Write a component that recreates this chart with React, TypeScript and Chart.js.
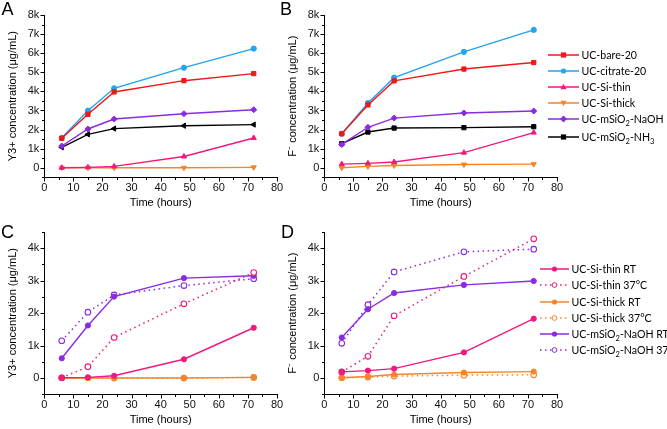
import React, { useEffect, useRef } from 'react';
import { Chart, registerables } from 'chart.js';
Chart.register(...registerables);

// ---------- DATA ----------
const TIME = [6, 15, 24, 48, 72];
const X_TICKS = [0, 10, 20, 30, 40, 50, 60, 70, 80];

// Panel A: Y3+ concentration (µg/mL)
const A_BARE = [1540, 2800, 3970, 4560, 4930];
const A_CITRATE = [1570, 2990, 4160, 5240, 6240];
const A_SI_THIN = [0, 20, 70, 590, 1560];
const A_SI_THICK = [0, 0, 0, 0, 20];
const A_NAOH = [1140, 2030, 2550, 2830, 3040];
const A_NH3 = [1070, 1750, 2050, 2200, 2260];

// Panel B: F- concentration (µg/mL)
const B_BARE = [1780, 3290, 4550, 5170, 5510];
const B_CITRATE = [1780, 3390, 4720, 6070, 7220];
const B_SI_THIN = [190, 230, 300, 790, 1840];
const B_SI_THICK = [0, 70, 120, 170, 190];
const B_NAOH = [1220, 2120, 2600, 2870, 2970];
const B_NH3 = [1260, 1870, 2080, 2100, 2150];

// Panel C: Y3+ RT vs 37°C
const C_THIN_RT = [10, 20, 70, 580, 1550];
const C_THIN_37 = [10, 350, 1250, 2290, 3250];
const C_THICK_RT = [0, 0, 0, 0, 20];
const C_THICK_37 = [10, 10, 0, 0, 20];
const C_NAOH_RT = [610, 1620, 2510, 3080, 3150];
const C_NAOH_37 = [1150, 2030, 2560, 2850, 3060];

// Panel D: F- RT vs 37°C
const D_THIN_RT = [190, 230, 290, 790, 1830];
const D_THIN_37 = [190, 670, 1920, 3130, 4290];
const D_THICK_RT = [10, 50, 110, 170, 200];
const D_THICK_37 = [10, 30, 60, 90, 100];
const D_NAOH_RT = [1250, 2120, 2620, 2870, 2990];
const D_NAOH_37 = [1070, 2260, 3270, 3890, 3970];

// ---------- STYLE ----------
const RED = '#F01818';
const BLUE = '#22A4F0';
const PINK = '#F0197D';
const ORANGE = '#F5852A';
const PURPLE = '#8A2BE2';
const BLACK = '#000000';
const AXIS_FONT = "'Liberation Sans', Arial, sans-serif";
const LEGEND_FONT = "Lato, 'Liberation Sans', sans-serif";

Chart.defaults.font.family = AXIS_FONT;
Chart.defaults.color = '#000';

const pts = (ys: number[]) => TIME.map((t, i) => ({ x: t, y: ys[i] }));

function solid(label: string, ys: number[], color: string, pointStyle: string, rotation = 0, radius = 3) {
  return {
    label,
    data: pts(ys),
    borderColor: color,
    backgroundColor: color,
    pointBackgroundColor: color,
    pointBorderColor: color,
    pointStyle,
    pointRotation: rotation,
    pointRadius: radius,
    pointBorderWidth: 1,
    borderWidth: 1.4,
    tension: 0,
  };
}

function dotted(label: string, ys: number[], color: string) {
  return {
    label,
    data: pts(ys),
    borderColor: color,
    backgroundColor: '#fff',
    pointBackgroundColor: '#fff',
    pointBorderColor: color,
    pointStyle: 'circle',
    pointRadius: 2.8,
    pointBorderWidth: 1.1,
    borderWidth: 1.5,
    borderDash: [1.5, 3.5],
    tension: 0,
  };
}

const axesPlugin = {
  id: 'originAxes',
  beforeDatasetsDraw(chart: any) {
    const { ctx, chartArea, scales } = chart;
    const x = scales.x;
    const y = scales.y;
    const L = Math.round(chartArea.left) + 0.5;
    const B = Math.round(chartArea.bottom) + 0.5;
    ctx.save();
    ctx.strokeStyle = '#000';
    ctx.lineWidth = 1;
    ctx.beginPath();
    ctx.moveTo(L, Math.round(chartArea.top));
    ctx.lineTo(L, B);
    ctx.lineTo(Math.round(chartArea.right) + 1, B);
    y.ticks.forEach((t: any) => {
      const py = Math.round(y.getPixelForValue(t.value)) + 0.5;
      const len = t.value % 1000 === 0 ? 4 : 2.5;
      ctx.moveTo(L - len, py);
      ctx.lineTo(L, py);
    });
    x.ticks.forEach((t: any) => {
      const px = Math.round(x.getPixelForValue(t.value)) + 0.5;
      const len = X_TICKS.includes(t.value) ? 4 : 2.5;
      ctx.moveTo(px, B);
      ctx.lineTo(px, B + len);
    });
    ctx.stroke();
    ctx.restore();
  },
};

function options(yMax: number, yTitle: string) {
  return {
    responsive: false,
    animation: false,
    events: [],
    layout: { padding: { left: 5, top: 15, right: 13, bottom: 0 } },
    plugins: { legend: { display: false }, tooltip: { enabled: false } },
    scales: {
      x: {
        type: 'linear',
        min: 0,
        max: 80,
        ticks: {
          stepSize: 5,
          autoSkip: false,
          maxRotation: 0,
          padding: 4,
          font: { size: 11 },
          color: '#111',
          callback: (v: number) => (X_TICKS.includes(v) ? String(v) : ''),
        },
        grid: { display: false, drawTicks: false },
        border: { display: false },
        title: { display: true, text: 'Time (hours)', font: { size: 11 }, color: '#000', padding: { top: 0, bottom: 2 } },
        afterFit: (s: any) => { s.height = 34.7; },
      },
      y: {
        type: 'linear',
        min: -500,
        max: yMax,
        ticks: {
          stepSize: 500,
          autoSkip: false,
          padding: 5,
          font: { size: 11 },
          color: '#111',
          callback: (v: number) => (v >= 0 && v % 1000 === 0 ? (v === 0 ? '0' : v / 1000 + 'k') : ''),
        },
        grid: { display: false, drawTicks: false },
        border: { display: false },
        title: { display: true, text: yTitle, font: { size: 11 }, color: '#000', padding: { top: 1, bottom: 0 } },
        afterFit: (s: any) => { s.width = 39.3; },
      },
    },
  };
}

function Panel({ left, top, datasets, yMax, yTitle }: any) {
  const ref = useRef<HTMLCanvasElement>(null);
  useEffect(() => {
    const chart = new Chart(ref.current as HTMLCanvasElement, {
      type: 'line',
      data: { datasets },
      options: options(yMax, yTitle) as any,
      plugins: [axesPlugin],
    } as any);
    return () => chart.destroy();
  }, []);
  return (
    <canvas
      ref={ref}
      width={290}
      height={212}
      style={{ position: 'absolute', left, top, width: 290, height: 212 }}
    />
  );
}

function Marker({ shape, color, cx, cy }: any) {
  const r = 2.6;
  if (shape === 'rect') return <rect x={cx - r} y={cy - r} width={2 * r} height={2 * r} fill={color} />;
  if (shape === 'circle') return <circle cx={cx} cy={cy} r={r} fill={color} />;
  if (shape === 'open') return <circle cx={cx} cy={cy} r={2.4} fill="#fff" stroke={color} strokeWidth={1} />;
  if (shape === 'tri') return <polygon points={`${cx},${cy - 3.2} ${cx + 3},${cy + 2.2} ${cx - 3},${cy + 2.2}`} fill={color} />;
  if (shape === 'itri') return <polygon points={`${cx},${cy + 3.2} ${cx + 3},${cy - 2.2} ${cx - 3},${cy - 2.2}`} fill={color} />;
  if (shape === 'diamond') return <polygon points={`${cx},${cy - 3.4} ${cx + 3.4},${cy} ${cx},${cy + 3.4} ${cx - 3.4},${cy}`} fill={color} />;
  return null;
}

function LegendRow({ x, y, w, textX, color, shape, dashed, children }: any) {
  return (
    <>
      <svg
        width={w}
        height={10}
        style={{ position: 'absolute', left: x, top: y - 5, overflow: 'visible' }}
      >
        <line
          x1={0}
          y1={5}
          x2={w}
          y2={5}
          stroke={color}
          strokeWidth={1.5}
          strokeDasharray={dashed ? '1.5 3.5' : undefined}
        />
        <Marker shape={shape} color={color} cx={w / 2} cy={5} />
      </svg>
      <div
        style={{
          position: 'absolute',
          left: textX,
          top: y - 8,
          height: 16,
          lineHeight: '16px',
          fontFamily: LEGEND_FONT,
          fontSize: 10.6,
          color: '#000',
          whiteSpace: 'nowrap',
        }}
      >
        {children}
      </div>
    </>
  );
}

const Sub = ({ children }: any) => (
  <sub style={{ fontSize: 7.5, lineHeight: 0, verticalAlign: -3 }}>{children}</sub>
);

const letterStyle = (left: number, top: number): React.CSSProperties => ({
  position: 'absolute',
  left,
  top,
  fontFamily: AXIS_FONT,
  fontSize: 18,
  lineHeight: '18px',
  color: '#000',
});

export default function App() {
  const dsA = [
    solid('UC-bare-20', A_BARE, RED, 'rect'),
    solid('UC-citrate-20', A_CITRATE, BLUE, 'circle', 0, 2.6),
    solid('UC-Si-thin', A_SI_THIN, PINK, 'triangle', 0, 3),
    solid('UC-Si-thick', A_SI_THICK, ORANGE, 'triangle', 180, 3),
    solid('UC-mSiO2-NaOH', A_NAOH, PURPLE, 'rectRot', 0, 3),
    solid('UC-mSiO2-NH3', A_NH3, BLACK, 'triangle', -90, 3),
  ];
  const dsB = [
    solid('UC-bare-20', B_BARE, RED, 'rect'),
    solid('UC-citrate-20', B_CITRATE, BLUE, 'circle', 0, 2.6),
    solid('UC-Si-thin', B_SI_THIN, PINK, 'triangle', 0, 3),
    solid('UC-Si-thick', B_SI_THICK, ORANGE, 'triangle', 180, 3),
    solid('UC-mSiO2-NaOH', B_NAOH, PURPLE, 'rectRot', 0, 3),
    solid('UC-mSiO2-NH3', B_NH3, BLACK, 'rect'),
  ];
  const dsC = [
    solid('UC-Si-thin RT', C_THIN_RT, PINK, 'circle', 0, 2.6),
    dotted('UC-Si-thin 37°C', C_THIN_37, PINK),
    solid('UC-Si-thick RT', C_THICK_RT, ORANGE, 'circle', 0, 2.6),
    dotted('UC-Si-thick 37°C', C_THICK_37, ORANGE),
    solid('UC-mSiO2-NaOH RT', C_NAOH_RT, PURPLE, 'circle', 0, 2.6),
    dotted('UC-mSiO2-NaOH 37°C', C_NAOH_37, PURPLE),
  ];
  const dsD = [
    solid('UC-Si-thin RT', D_THIN_RT, PINK, 'circle', 0, 2.6),
    dotted('UC-Si-thin 37°C', D_THIN_37, PINK),
    solid('UC-Si-thick RT', D_THICK_RT, ORANGE, 'circle', 0, 2.6),
    dotted('UC-Si-thick 37°C', D_THICK_37, ORANGE),
    solid('UC-mSiO2-NaOH RT', D_NAOH_RT, PURPLE, 'circle', 0, 2.6),
    dotted('UC-mSiO2-NaOH 37°C', D_NAOH_37, PURPLE),
  ];

  const bx = 548, bw = 31, btx = 581.5;
  const dx = 539.5, dw = 29, dtx = 571.5;

  return (
    <div
      style={{
        position: 'fixed',
        left: 0,
        top: 0,
        width: 667,
        height: 429,
        overflow: 'hidden',
        background: '#fff',
      }}
    >
      <Panel left={0} top={0} datasets={dsA} yMax={8000} yTitle="Y3+ concentration (μg/mL)" />
      <Panel left={280} top={0} datasets={dsB} yMax={8000} yTitle="F⁻ concentration (μg/mL)" />
      <Panel left={0} top={216.7} datasets={dsC} yMax={4500} yTitle="Y3+ concentration (μg/mL)" />
      <Panel left={280} top={216.7} datasets={dsD} yMax={4500} yTitle="F⁻ concentration (μg/mL)" />

      <div style={letterStyle(1.5, 0)}>A</div>
      <div style={letterStyle(280, -0.5)}>B</div>
      <div style={letterStyle(1, 222.6)}>C</div>
      <div style={letterStyle(281, 222.6)}>D</div>

      <LegendRow x={bx} y={55} w={bw} textX={btx} color={RED} shape="rect">UC-bare-20</LegendRow>
      <LegendRow x={bx} y={71} w={bw} textX={btx} color={BLUE} shape="circle">UC-citrate-20</LegendRow>
      <LegendRow x={bx} y={87} w={bw} textX={btx} color={PINK} shape="tri">UC-Si-thin</LegendRow>
      <LegendRow x={bx} y={103} w={bw} textX={btx} color={ORANGE} shape="itri">UC-Si-thick</LegendRow>
      <LegendRow x={bx} y={119} w={bw} textX={btx} color={PURPLE} shape="diamond">
        UC-mSiO<Sub>2</Sub>-NaOH
      </LegendRow>
      <LegendRow x={bx} y={137} w={bw} textX={btx} color={BLACK} shape="rect">
        UC-mSiO<Sub>2</Sub>-NH<Sub>3</Sub>
      </LegendRow>

      <LegendRow x={dx} y={269.3} w={dw} textX={dtx} color={PINK} shape="circle">UC-Si-thin RT</LegendRow>
      <LegendRow x={dx} y={285.3} w={dw} textX={dtx} color={PINK} shape="open" dashed>UC-Si-thin 37°C</LegendRow>
      <LegendRow x={dx} y={301.5} w={dw} textX={dtx} color={ORANGE} shape="circle">UC-Si-thick RT</LegendRow>
      <LegendRow x={dx} y={317.5} w={dw} textX={dtx} color={ORANGE} shape="open" dashed>UC-Si-thick 37°C</LegendRow>
      <LegendRow x={dx} y={333.5} w={dw} textX={dtx} color={PURPLE} shape="circle">
        UC-mSiO<Sub>2</Sub>-NaOH RT
      </LegendRow>
      <LegendRow x={dx} y={350} w={dw} textX={dtx} color={PURPLE} shape="open" dashed>
        UC-mSiO<Sub>2</Sub>-NaOH 37°C
      </LegendRow>
    </div>
  );
}
